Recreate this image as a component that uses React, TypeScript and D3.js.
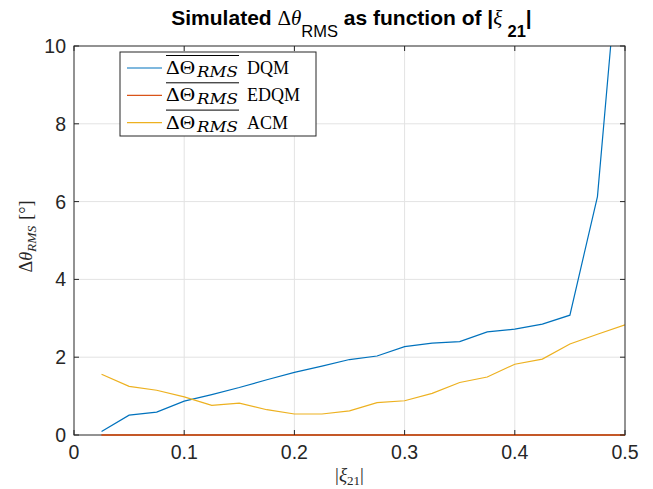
import React, { useEffect, useRef } from 'react';
import * as d3 from 'd3';

// |xi_21| samples
const XI = [0.025, 0.05, 0.075, 0.1, 0.125, 0.15, 0.175, 0.2, 0.225, 0.25,
  0.275, 0.3, 0.325, 0.35, 0.375, 0.4, 0.425, 0.45, 0.475, 0.5];

const DQM = [0.09, 0.51, 0.59, 0.87, 1.04, 1.22, 1.42, 1.61, 1.77, 1.94,
  2.03, 2.27, 2.36, 2.40, 2.65, 2.72, 2.85, 3.08, 6.13, 14.2];
const EDQM = [0, 0, 0, 0, 0, 0, 0, 0, 0, 0, 0, 0, 0, 0, 0, 0, 0, 0, 0, 0];
const ACM = [1.56, 1.25, 1.15, 0.98, 0.76, 0.82, 0.65, 0.54, 0.54, 0.62,
  0.83, 0.88, 1.07, 1.35, 1.49, 1.82, 1.95, 2.34, 2.59, 2.83];

const X_TICKS = [0, 0.1, 0.2, 0.3, 0.4, 0.5];
const Y_TICKS = [0, 2, 4, 6, 8, 10];

const SERIES = [
  { name: 'DQM', values: DQM, color: '#0072BD' },
  { name: 'EDQM', values: EDQM, color: '#D95319' },
  { name: 'ACM', values: ACM, color: '#EDB120' },
];

const W = 653;
const H = 489;
const SANS = '"Liberation Sans", Arial, Helvetica, sans-serif';
const SERIF = '"Liberation Serif", "DejaVu Serif", serif';
const WIDE_SERIF = '"DejaVu Serif", "Liberation Serif", serif';

export default function App() {
  const svgRef = useRef<SVGSVGElement>(null);

  useEffect(() => {
    const svg = d3.select(svgRef.current);
    svg.selectAll('*').remove();

    const margin = { top: 46, right: 28, bottom: 54, left: 74 };
    const w = W - margin.left - margin.right;
    const h = H - margin.top - margin.bottom;

    const x = d3.scaleLinear().domain([0, 0.5]).range([0, w]);
    const y = d3.scaleLinear().domain([0, 10]).range([h, 0]);

    svg.append('rect').attr('width', W).attr('height', H).attr('fill', '#fff');

    const g = svg.append('g').attr('transform', `translate(${margin.left},${margin.top})`);

    // grid
    g.append('g').selectAll('line').data(X_TICKS.slice(1, -1)).join('line')
      .attr('x1', d => x(d)).attr('x2', d => x(d)).attr('y1', 0).attr('y2', h)
      .attr('stroke', '#e3e3e3').attr('stroke-width', 1);
    g.append('g').selectAll('line').data(Y_TICKS.slice(1, -1)).join('line')
      .attr('y1', d => y(d)).attr('y2', d => y(d)).attr('x1', 0).attr('x2', w)
      .attr('stroke', '#e3e3e3').attr('stroke-width', 1);

    // lines
    const defs = svg.append('defs');
    defs.append('clipPath').attr('id', 'plotClip')
      .append('rect').attr('x', 0).attr('y', 0).attr('width', w).attr('height', h + 1);

    const line = d3.line<number>().x((d, i) => x(XI[i])).y(d => y(d));
    const lines = g.append('g').attr('clip-path', 'url(#plotClip)');
    SERIES.forEach(s => {
      lines.append('path')
        .datum(s.values)
        .attr('d', line)
        .attr('fill', 'none')
        .attr('stroke', s.color)
        .attr('stroke-width', 1.2);
    });

    // axes box
    g.append('rect').attr('x', 0).attr('y', 0).attr('width', w).attr('height', h)
      .attr('fill', 'none').attr('stroke', '#262626').attr('stroke-width', 1);

    // EDQM sits on the bottom axis, draw it again on top
    g.append('path').datum(EDQM).attr('d', line)
      .attr('fill', 'none').attr('stroke', '#D95319').attr('stroke-width', 1.3);

    // ticks (inward)
    const tl = 5;
    X_TICKS.forEach(t => {
      g.append('line').attr('x1', x(t)).attr('x2', x(t)).attr('y1', h).attr('y2', h - tl)
        .attr('stroke', '#262626');
      g.append('line').attr('x1', x(t)).attr('x2', x(t)).attr('y1', 0).attr('y2', tl)
        .attr('stroke', '#262626');
    });
    Y_TICKS.forEach(t => {
      g.append('line').attr('y1', y(t)).attr('y2', y(t)).attr('x1', 0).attr('x2', tl)
        .attr('stroke', '#262626');
      g.append('line').attr('y1', y(t)).attr('y2', y(t)).attr('x1', w).attr('x2', w - tl)
        .attr('stroke', '#262626');
    });

    // tick labels
    g.append('g').selectAll('text').data(X_TICKS).join('text')
      .attr('x', d => x(d)).attr('y', h + 24)
      .attr('text-anchor', 'middle')
      .attr('font-family', SANS).attr('font-size', 19.5).attr('fill', '#262626')
      .text(d => d3.format('')(d));
    g.append('g').selectAll('text').data(Y_TICKS).join('text')
      .attr('x', -8).attr('y', d => y(d) + 7)
      .attr('text-anchor', 'end')
      .attr('font-family', SANS).attr('font-size', 19.5).attr('fill', '#262626')
      .text(d => String(d));

    // x label
    const xl = svg.append('text')
      .attr('x', margin.left + w / 2).attr('y', 481)
      .attr('text-anchor', 'middle')
      .attr('font-family', SERIF).attr('font-size', 19).attr('fill', '#262626');
    xl.append('tspan').text('|');
    xl.append('tspan').attr('font-style', 'italic').text('ξ');
    xl.append('tspan').attr('font-size', 13).attr('dy', 4).text('21');
    xl.append('tspan').attr('dy', -4).text('|');

    // y label
    const yl = svg.append('text')
      .attr('transform', `translate(32,${margin.top + h / 2 - 4}) rotate(-90)`)
      .attr('text-anchor', 'middle')
      .attr('font-family', SERIF).attr('font-size', 18).attr('fill', '#262626');
    yl.append('tspan').text('Δ');
    yl.append('tspan').attr('font-style', 'italic').text('θ');
    yl.append('tspan').attr('font-style', 'italic').attr('font-size', 13.5).attr('dy', 4).text('RMS');
    yl.append('tspan').attr('dy', -4).attr('dx', 6).text('[°]');

    // title
    const tt = svg.append('text')
      .attr('x', margin.left + w / 2 + 2).attr('y', 25)
      .attr('text-anchor', 'middle')
      .attr('font-family', SANS).attr('font-size', 21).attr('fill', '#000');
    tt.append('tspan').attr('font-weight', 'bold').text('Simulated ');
    tt.append('tspan').attr('font-family', SERIF).text('Δ');
    tt.append('tspan').attr('font-family', SERIF).attr('font-style', 'italic').text('θ');
    tt.append('tspan').attr('font-size', 16.5).attr('dy', 12).text('RMS');
    tt.append('tspan').attr('font-weight', 'bold').attr('dy', -12).text(' as function of |');
    tt.append('tspan').attr('font-family', SERIF).attr('font-style', 'italic').text('ξ ');
    tt.append('tspan').attr('font-weight', 'bold').attr('font-size', 16.5).attr('dy', 12).text('21');
    tt.append('tspan').attr('font-weight', 'bold').attr('dy', -12).text('|');

    // legend
    const lg = svg.append('g').attr('transform', 'translate(120,52)');
    lg.append('rect').attr('width', 196).attr('height', 84)
      .attr('fill', '#fff').attr('stroke', '#262626').attr('stroke-width', 1);
    SERIES.forEach((s, i) => {
      const cy = 16 + i * 27.3;
      lg.append('line').attr('x1', 7).attr('x2', 42).attr('y1', cy).attr('y2', cy)
        .attr('stroke', s.color).attr('stroke-width', 1.2);
      lg.append('text')
        .attr('x', 46).attr('y', cy + 6)
        .attr('font-family', SERIF).attr('font-size', 18).attr('fill', '#000')
        .attr('textLength', 29).attr('lengthAdjust', 'spacingAndGlyphs')
        .text('ΔΘ');
      lg.append('text')
        .attr('x', 77).attr('y', cy + 9)
        .attr('font-family', WIDE_SERIF).attr('font-style', 'italic').attr('font-size', 14)
        .attr('font-weight', 300).attr('fill', '#000')
        .attr('textLength', 41).attr('lengthAdjust', 'spacingAndGlyphs')
        .text('RMS');
      lg.append('text')
        .attr('x', 127).attr('y', cy + 6)
        .attr('font-family', SERIF).attr('font-size', 18).attr('fill', '#000')
        .text(s.name);
      lg.append('line').attr('x1', 46).attr('x2', 119).attr('y1', cy - 12.5).attr('y2', cy - 12.5)
        .attr('stroke', '#000').attr('stroke-width', 1);
    });
  }, []);

  return (
    <svg ref={svgRef} width={W} height={H} style={{ position: 'absolute', left: 0, top: 0 }} />
  );
}
